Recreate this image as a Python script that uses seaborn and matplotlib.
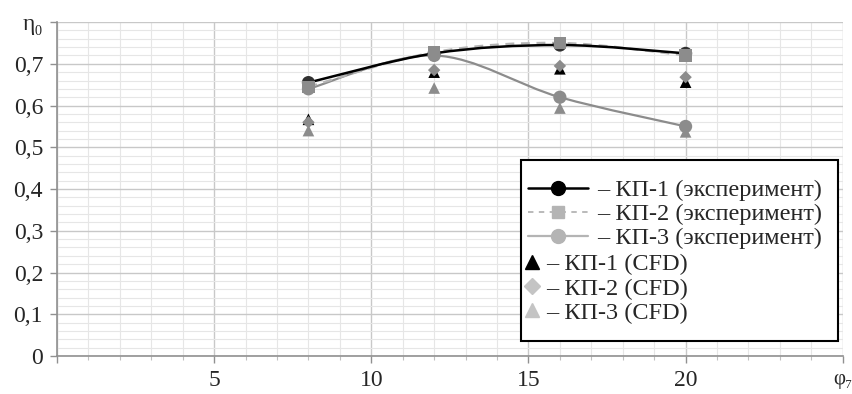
import numpy as np
import pandas as pd
import matplotlib
matplotlib.use("Agg")
import matplotlib.pyplot as plt
import seaborn as sns
from matplotlib.path import Path
from matplotlib.patches import PathPatch, Rectangle
from matplotlib.lines import Line2D
from matplotlib.ticker import MultipleLocator

# --- данные ---
phi = [8, 12, 16, 20]
kp1_exp = [0.655, 0.725, 0.745, 0.725]
kp2_exp = [0.645, 0.728, 0.750, 0.720]
kp3_exp = [0.640, 0.720, 0.620, 0.550]
kp1_cfd = [0.567, 0.680, 0.688, 0.656]
kp2_cfd = [0.560, 0.685, 0.695, 0.668]
kp3_cfd = [0.540, 0.642, 0.594, 0.537]

y_labels = ["0", "0,1", "0,2", "0,3", "0,4", "0,5", "0,6", "0,7", "η₀"]
x_labels = ["", "5", "10", "15", "20", "φ₇"]

sns.set_theme(style="white")
plt.rcParams["font.family"] = ["Liberation Serif", "DejaVu Serif"]

FS_TICK = 17
FS_LEG = 17.5
C_BLACK = "#000000"
C_GRAY = "#8c8c8c"
C_LGRAY = "#b4b4b4"
C_VLGRAY = "#c4c4c4"


def smooth_curve(ax, xs, ys, **kw):
    # сглаженная линия как в Excel (Catmull-Rom -> кривые Безье)
    pts = list(zip(xs, ys))
    verts = [pts[0]]
    codes = [Path.MOVETO]
    for i in range(len(pts) - 1):
        p0 = pts[i - 1] if i > 0 else pts[i]
        p1, p2 = pts[i], pts[i + 1]
        p3 = pts[i + 2] if i + 2 < len(pts) else pts[i + 1]
        c1 = (p1[0] + (p2[0] - p0[0]) / 6, p1[1] + (p2[1] - p0[1]) / 6)
        c2 = (p2[0] - (p3[0] - p1[0]) / 6, p2[1] - (p3[1] - p1[1]) / 6)
        verts += [c1, c2, p2]
        codes += [Path.CURVE4] * 3
    ax.add_patch(PathPatch(Path(verts, codes), fill=False, **kw))


fig, ax = plt.subplots(figsize=(8.53, 3.94), dpi=100)
fig.subplots_adjust(left=0.0668, right=0.988, bottom=0.0964, top=0.944)

smooth_curve(ax, phi, kp3_exp, edgecolor=C_GRAY, lw=1.6, zorder=3)
smooth_curve(ax, phi, kp2_exp, edgecolor=C_LGRAY, lw=1.6, ls=(0, (4, 3)), zorder=3)
smooth_curve(ax, phi, kp1_exp, edgecolor=C_BLACK, lw=1.8, zorder=4)

df = pd.DataFrame({"phi": phi, "kp1e": kp1_exp, "kp2e": kp2_exp, "kp3e": kp3_exp,
                   "kp1c": kp1_cfd, "kp2c": kp2_cfd, "kp3c": kp3_cfd})

sns.scatterplot(data=df, x="phi", y="kp3c", marker="^", s=70, color=C_GRAY, edgecolor="none", ax=ax, zorder=5)
sns.scatterplot(data=df, x="phi", y="kp1c", marker="^", s=70, color=C_BLACK, edgecolor="none", ax=ax, zorder=5)
sns.scatterplot(data=df, x="phi", y="kp2c", marker="D", s=40, color=C_GRAY, edgecolor="none", ax=ax, zorder=6)
sns.scatterplot(data=df, x="phi", y="kp1e", marker="o", s=90, color="#303030", edgecolor="none", ax=ax, zorder=6)
sns.scatterplot(data=df, x="phi", y="kp2e", marker="s", s=80, color=C_GRAY, edgecolor="none", ax=ax, zorder=7)
sns.scatterplot(data=df, x="phi", y="kp3e", marker="o", s=90, color=C_GRAY, edgecolor="none", ax=ax, zorder=7)

ax.set_xlim(0, 25)
ax.set_ylim(0, 0.8)
ax.set_xlabel("")
ax.set_ylabel("")

ax.set_xticks(np.arange(0, 26, 5))
ax.set_xticklabels(x_labels, fontsize=FS_TICK)
ax.set_yticks(np.arange(0, 0.81, 0.1))
ax.set_yticklabels(y_labels, fontsize=FS_TICK)
ax.xaxis.set_minor_locator(MultipleLocator(1))
ax.yaxis.set_minor_locator(MultipleLocator(0.02))

ax.grid(which="major", color="#c8c8c8", lw=1.0)
ax.grid(which="minor", color="#e6e6e6", lw=0.8)
ax.set_axisbelow(True)
ax.tick_params(axis="both", which="major", direction="out", length=5, width=1,
               color="#909090", pad=5, left=True, bottom=True)
ax.tick_params(axis="x", which="minor", direction="out", length=3, width=0.8,
               color="#c0c0c0", bottom=True)
for lab in ax.get_xticklabels():
    if lab.get_text() == "φ₇":
        lab.set_fontsize(15)
for s in ["top", "right"]:
    ax.spines[s].set_visible(False)
for s in ["left", "bottom"]:
    ax.spines[s].set_color("#909090")
    ax.spines[s].set_linewidth(1.2)

# легенда: рамка и две группы записей
ax.add_patch(Rectangle((0.590, 0.045), 0.404, 0.542, transform=ax.transAxes,
                       facecolor="white", edgecolor="black", lw=1.5, zorder=8))

h_exp = [
    Line2D([], [], color=C_BLACK, lw=1.8, marker="o", ms=10, mfc=C_BLACK, mec=C_BLACK),
    Line2D([], [], color=C_LGRAY, lw=1.3, ls=(0, (3, 3)), marker="s", ms=9, mfc=C_LGRAY, mec=C_LGRAY),
    Line2D([], [], color=C_LGRAY, lw=1.6, marker="o", ms=10, mfc=C_LGRAY, mec=C_LGRAY),
]
l_exp = ["– КП-1 (эксперимент)", "– КП-2 (эксперимент)", "– КП-3 (эксперимент)"]
h_cfd = [
    Line2D([], [], ls="none", marker="^", ms=10, mfc=C_BLACK, mec=C_BLACK),
    Line2D([], [], ls="none", marker="D", ms=8, mfc=C_VLGRAY, mec=C_VLGRAY),
    Line2D([], [], ls="none", marker="^", ms=10, mfc=C_VLGRAY, mec=C_VLGRAY),
]
l_cfd = ["– КП-1 (CFD)", "– КП-2 (CFD)", "– КП-3 (CFD)"]

leg1 = ax.legend(h_exp, l_exp, loc="upper left", bbox_to_anchor=(0.599, 0.53),
                 frameon=False, fontsize=FS_LEG, handlelength=2.47, handletextpad=0.37,
                 labelspacing=0.09, borderpad=0, borderaxespad=0)
leg1.set_zorder(9)
ax.add_artist(leg1)
leg2 = ax.legend(h_cfd, l_cfd, loc="upper left", bbox_to_anchor=(0.593, 0.307),
                 frameon=False, fontsize=FS_LEG, handlelength=0.75, handletextpad=0.22,
                 labelspacing=0.09, borderpad=0, borderaxespad=0)
leg2.set_zorder(9)

fig.savefig("out.png", dpi=100)
